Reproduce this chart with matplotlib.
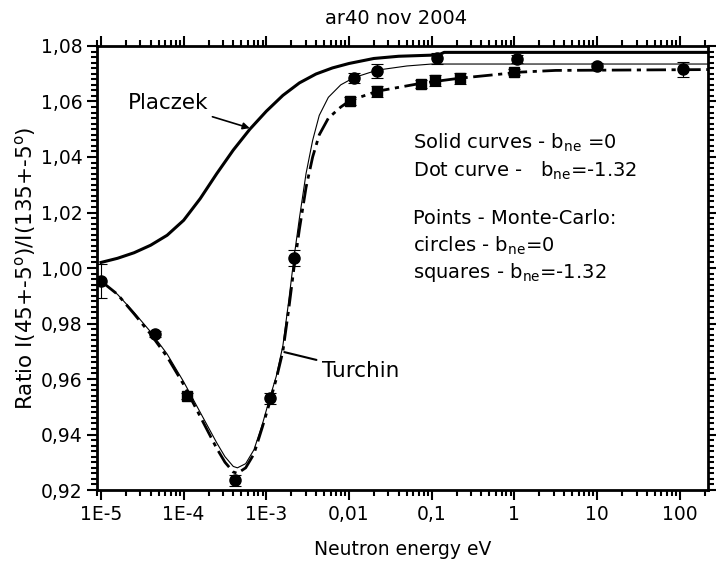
import matplotlib.pyplot as plt
import numpy as np
from matplotlib.ticker import MultipleLocator, LogLocator, NullFormatter

plt.rcParams['font.family'] = ['DejaVu Sans']
plt.rcParams['mathtext.fontset'] = 'dejavusans'

# curves, energies given as log10(E / eV)
# Placzek curve (thick solid)
placzek_loge = [-5, -4.8, -4.6, -4.4, -4.2, -4.0, -3.8, -3.6, -3.4, -3.2, -3.0, -2.8, -2.6,
                -2.4, -2.2, -2.0, -1.7, -1.4, -1.0, -0.9, -0.85, 2.34]
placzek_r = [1.002, 1.0035, 1.0055, 1.0082, 1.0118, 1.0172, 1.025, 1.034, 1.0425, 1.050,
             1.0565, 1.0622, 1.0667, 1.0699, 1.0721, 1.0737, 1.0755, 1.0763, 1.0767, 1.077,
             1.0777, 1.0777]

# Turchin curve, b_ne = 0 (thin solid)
turchin_loge = [-5, -4.8, -4.6, -4.4, -4.2, -4.0, -3.8, -3.6, -3.5, -3.4, -3.35, -3.25, -3.15,
                -3.05, -2.96, -2.88, -2.80, -2.73, -2.666, -2.6, -2.52, -2.44, -2.36, -2.25,
                -2.1, -1.94, -1.66, -1.3, -1.0, 2.34]
turchin_r = [0.9953, 0.9905, 0.984, 0.977, 0.969, 0.959, 0.948, 0.937, 0.932, 0.9285, 0.928,
             0.9295, 0.9345, 0.9435, 0.953, 0.961, 0.972, 0.988, 1.0036, 1.018, 1.034, 1.046,
             1.055, 1.0615, 1.066, 1.0686, 1.0713, 1.0728, 1.0735, 1.0735]

# Turchin curve, b_ne = -1.32 (dash-dot)
dot_loge = [-5, -4.8, -4.6, -4.4, -4.2, -4.0, -3.8, -3.6, -3.5, -3.4, -3.35, -3.25, -3.15,
            -3.05, -2.96, -2.88, -2.80, -2.73, -2.666, -2.6, -2.52, -2.44, -2.36, -2.25,
            -2.1, -1.99, -1.66, -1.12, -0.66, 0.08, 0.5, 2.34]
dot_r = [0.9953, 0.9905, 0.9835, 0.9762, 0.968, 0.958, 0.9465, 0.935, 0.930, 0.9265, 0.926,
         0.928, 0.933, 0.9425, 0.9515, 0.960, 0.970, 0.985, 1.000, 1.014, 1.029, 1.040,
         1.048, 1.054, 1.058, 1.0603, 1.0637, 1.0666, 1.0684, 1.0706, 1.0712, 1.0715]

# Monte-Carlo points
circ_e = [1e-5, 4.5e-5, 4.2e-4, 1.1e-3, 2.16e-3, 0.0115, 0.022, 0.116, 1.09, 10, 110]
circ_r = [0.9953, 0.9762, 0.9235, 0.9531, 1.0036, 1.0684, 1.0711, 1.0756, 1.0753, 1.0728, 1.0717]
circ_err = [0.006, 0.001, 0.002, 0.002, 0.003, 0.0018, 0.0025, 0.002, 0.0015, 0.001, 0.0027]

sq_e = [1.1e-4, 0.0102, 0.022, 0.075, 0.11, 0.22, 1.0]
sq_r = [0.9538, 1.0601, 1.0637, 1.0663, 1.0677, 1.0684, 1.0706]
sq_err = [0.001, 0.0015, 0.002, 0.0015, 0.002, 0.002, 0.0012]

xticks = [1e-5, 1e-4, 1e-3, 1e-2, 1e-1, 1, 10, 100]
xlabels = ['1E-5', '1E-4', '1E-3', '0,01', '0,1', '1', '10', '100']
yticks = [0.92, 0.94, 0.96, 0.98, 1.00, 1.02, 1.04, 1.06, 1.08]
ylabels = ['0,92', '0,94', '0,96', '0,98', '1,00', '1,02', '1,04', '1,06', '1,08']

fig = plt.figure(figsize=(7.16, 5.65), dpi=100)
ax = fig.add_axes([0.1355, 0.1327, 0.853, 0.7859])

ax.plot(10.0 ** np.array(placzek_loge), placzek_r, color='black', lw=2.2)
ax.plot(10.0 ** np.array(turchin_loge), turchin_r, color='black', lw=0.8)
ax.plot(10.0 ** np.array(dot_loge), dot_r, color='black', lw=2.0, dashes=(7, 2, 1.5, 2))

ax.errorbar(circ_e, circ_r, yerr=circ_err, fmt='o', color='black', ms=8,
            elinewidth=0.8, capsize=4, capthick=0.8)
ax.errorbar(sq_e, sq_r, yerr=sq_err, fmt='s', color='black', ms=7.5,
            elinewidth=0.8, capsize=4, capthick=0.8)

ax.set_xscale('log')
ax.set_xlim(10 ** -5.048, 10 ** 2.339)
ax.set_ylim(0.92, 1.08)
ax.set_xticks(xticks)
ax.set_xticklabels(xlabels)
ax.xaxis.set_minor_locator(LogLocator(base=10, subs=np.arange(2, 10), numticks=20))
ax.xaxis.set_minor_formatter(NullFormatter())
ax.set_yticks(yticks)
ax.set_yticklabels(ylabels)
ax.yaxis.set_minor_locator(MultipleLocator(0.002))

ax.tick_params(which='both', direction='out', top=True, right=True, labelsize=13.5, width=1.5)
ax.tick_params(which='major', length=7)
ax.tick_params(which='minor', length=4)
for s in ax.spines.values():
    s.set_linewidth(2)

ax.set_title('ar40 nov 2004', fontsize=14, pad=16, x=0.49)
ax.set_xlabel('Neutron energy eV', fontsize=13.5, labelpad=12)
ax.set_ylabel('Ratio I(45+-5$^{\\rm o}$)/I(135+-5$^{\\rm o}$)', fontsize=15.5, labelpad=2)

ax.annotate('Placzek', xy=(6.3e-4, 1.0504), xytext=(2.1e-5, 1.0594), fontsize=15.5,
            va='center', ha='left',
            arrowprops=dict(arrowstyle='-|>', color='black', lw=1.2, mutation_scale=10,
                            shrinkA=2, shrinkB=0))
ax.annotate('Turchin', xy=(1.65e-3, 0.9697), xytext=(4.7e-3, 0.963), fontsize=15.5,
            va='center', ha='left',
            arrowprops=dict(arrowstyle='-', color='black', lw=1.5, shrinkA=2, shrinkB=0))

tx = 0.059
fs = 14
ax.text(tx, 1.08 - (143 - 46) / 2770, 'Solid curves - b$_{\\rm ne}$ =0', fontsize=fs, va='center')
ax.text(tx, 1.08 - (171 - 46) / 2770, 'Dot curve -   b$_{\\rm ne}$=-1.32', fontsize=fs, va='center')
ax.text(tx, 1.08 - (218 - 46) / 2770, 'Points - Monte-Carlo:', fontsize=fs, va='center')
ax.text(tx, 1.08 - (245 - 46) / 2770, 'circles - b$_{\\rm ne}$=0', fontsize=fs, va='center')
ax.text(tx, 1.08 - (272 - 46) / 2770, 'squares - b$_{\\rm ne}$=-1.32', fontsize=fs, va='center')

fig.savefig('out.png', dpi=100)
